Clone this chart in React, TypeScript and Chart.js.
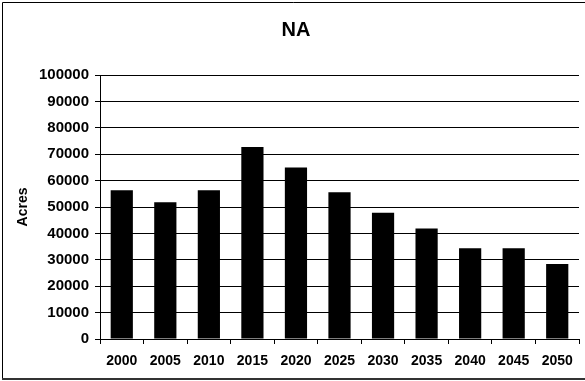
import React, { useEffect, useRef } from "react";
import { Chart, registerables } from "chart.js";

Chart.register(...registerables);

// Projected acreage by year
const years: string[] = ["2000", "2005", "2010", "2015", "2020", "2025", "2030", "2035", "2040", "2045", "2050"];
const acres: number[] = [56300, 51800, 56300, 72700, 65000, 55600, 47800, 41900, 34400, 34400, 28400];

const chartTitle = "NA";
const yAxisTitle = "Acres";
const yMin = 0;
const yMax = 100000;
const yStep = 10000;

const FONT = "'Liberation Sans', Arial, Helvetica, sans-serif";

// Draws the title and the frame around the chart
const framePlugin = {
  id: "frame",
  afterDraw(chart: Chart) {
    const ctx = chart.ctx;
    const { width, height } = chart;
    ctx.save();
    ctx.strokeStyle = "#000";
    ctx.lineWidth = 1;
    ctx.beginPath();
    ctx.moveTo(2.5, height - 2);
    ctx.lineTo(2.5, 2.5);
    ctx.lineTo(width, 2.5);
    ctx.stroke();
    ctx.strokeStyle = "#333";
    ctx.lineWidth = 2;
    ctx.beginPath();
    ctx.moveTo(2, height - 2);
    ctx.lineTo(width, height - 2);
    ctx.stroke();

    ctx.fillStyle = "#000";
    ctx.font = `bold 20px ${FONT}`;
    ctx.textAlign = "center";
    ctx.textBaseline = "middle";
    ctx.fillText(chartTitle, 296, 30);
    ctx.restore();
  },
};

export default function App() {
  const canvasRef = useRef<HTMLCanvasElement | null>(null);

  useEffect(() => {
    if (!canvasRef.current) return;
    const chart = new Chart(canvasRef.current, {
      type: "bar",
      data: {
        labels: years,
        datasets: [
          {
            data: acres,
            backgroundColor: "#000",
            borderWidth: 0,
            barPercentage: 0.51,
            categoryPercentage: 1,
          },
        ],
      },
      options: {
        responsive: false,
        animation: false,
        devicePixelRatio: 1,
        layout: { padding: { left: 0, right: 6, top: 75, bottom: 0 } },
        plugins: {
          legend: { display: false },
          title: { display: false },
          tooltip: { enabled: false },
        },
        scales: {
          x: {
            grid: {
              display: true,
              drawOnChartArea: false,
              drawTicks: true,
              tickLength: 5,
              color: "#000",
              lineWidth: 1,
            },
            border: { display: true, color: "#000", width: 1 },
            ticks: {
              color: "#000",
              font: { family: FONT, size: 14, weight: "bold" },
              padding: 9,
              maxRotation: 0,
              autoSkip: false,
            },
            afterFit: (scale: any) => {
              scale.height = 42;
            },
          },
          y: {
            min: yMin,
            max: yMax,
            grid: {
              color: "#000",
              lineWidth: 1,
              drawTicks: true,
              tickLength: 5,
            },
            border: { display: true, color: "#000", width: 1 },
            ticks: {
              stepSize: yStep,
              color: "#000",
              font: { family: FONT, size: 15, weight: "bold" },
              padding: 6,
              callback: (v: any) => String(v),
            },
            title: {
              display: true,
              text: yAxisTitle,
              color: "#000",
              font: { family: FONT, size: 14, weight: "bold" },
              padding: { top: 15, bottom: 0 },
            },
            afterFit: (scale: any) => {
              scale.width = 100;
            },
          },
        },
      },
      plugins: [framePlugin],
    });
    return () => chart.destroy();
  }, []);

  return (
    <div style={{ position: "absolute", left: 0, top: 0, width: 585, height: 381, background: "#fff" }}>
      <canvas ref={canvasRef} width={585} height={381} style={{ display: "block" }} />
    </div>
  );
}
